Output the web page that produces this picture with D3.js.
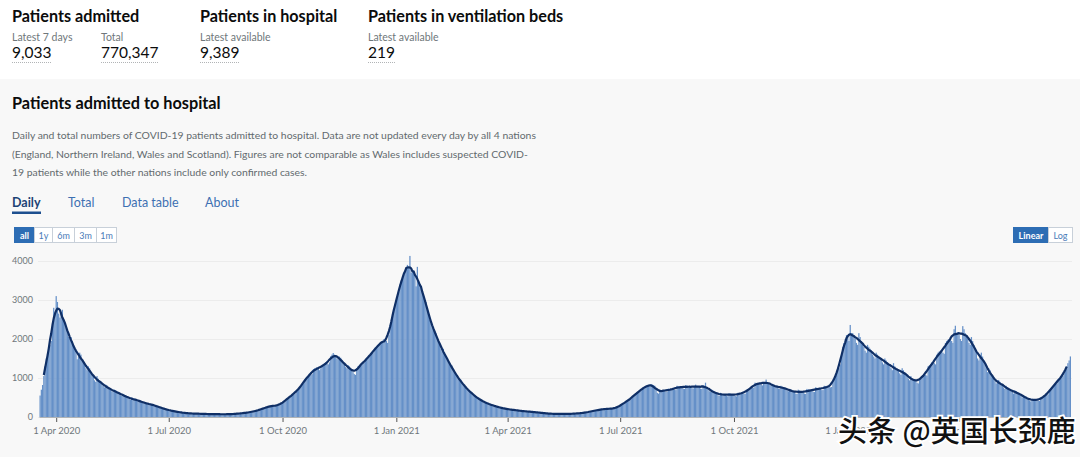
<!DOCTYPE html>
<html>
<head>
<meta charset="utf-8">
<script src="https://cdnjs.cloudflare.com/ajax/libs/d3/7.8.5/d3.min.js"></script>
<style>
  body { margin: 0; background: #f8f8f8; }
  svg { display: block; font-family: Lato, "Noto Sans", sans-serif; }
</style>
</head>
<body>
<svg id="page" width="1080" height="457"></svg>
<script>
// daily COVID-19 admissions (2020 starts 19 March, 2022 ends 30 June)
var firstDay = "2020-03-19";
var admitted2020 = [
  550, 700, 820, 1050, 1300, 1500, 1620, 1750, 1850, 1950, 2350, 2800, 2700,
  3100, 2950, 2650, 2550, 2700, 2750, 2500, 2400, 2300, 2200, 2050, 2000, 2050, 1950, 1800, 1750, 1700, 1480, 1550, 1650, 1600, 1450, 1400, 1350, 1250, 1200, 1300, 1250, 1150, 1100,
  1050, 940, 900, 1050, 980, 920, 880, 850, 800, 760, 830, 810, 760, 730, 700, 660, 640, 700, 680, 650, 630, 600, 560, 540, 590, 570, 550, 520, 500, 460, 440,
  500, 480, 470, 450, 430, 400, 390, 420, 410, 390, 370, 350, 330, 320, 350, 340, 330, 310, 300, 280, 260, 280, 270, 250, 240, 220, 200, 190, 210, 200,
  180, 170, 160, 145, 140, 155, 150, 135, 125, 120, 110, 105, 115, 110, 100, 98, 95, 88, 85, 95, 92, 88, 86, 84, 80, 78, 88, 86, 82, 80, 78,
  72, 70, 80, 78, 75, 74, 72, 68, 66, 76, 75, 73, 72, 70, 66, 64, 74, 76, 75, 74, 72, 70, 72, 85, 88, 90, 92, 95, 90, 92, 105,
  110, 115, 118, 120, 118, 125, 145, 150, 160, 165, 170, 172, 180, 205, 220, 235, 240, 250, 245, 255, 290, 290, 285, 290, 295, 280, 285, 320, 330, 350,
  380, 390, 400, 420, 480, 500, 530, 560, 580, 570, 590, 680, 700, 730, 760, 800, 820, 860, 960, 1000, 1040, 1070, 1100, 1080, 1100, 1230, 1250, 1260, 1270, 1240, 1200,
  1250, 1330, 1360, 1380, 1400, 1380, 1350, 1400, 1560, 1600, 1640, 1600, 1560, 1500, 1480, 1550, 1520, 1450, 1400, 1350, 1280, 1250, 1330, 1300, 1250, 1200, 1150, 1100, 1080, 1250,
  1300, 1320, 1330, 1350, 1380, 1400, 1480, 1500, 1520, 1560, 1600, 1620, 1650, 1720, 1780, 1800, 1820, 1850, 1880, 1900, 1950, 2000, 1980, 1950, 1900, 2100, 2350, 2500, 2650, 2750, 2900
];
var admitted2021 = [
  3000, 3100, 3200, 3400, 3500, 3600, 3700, 3750, 3800, 3900, 3850, 4130, 3700, 3750, 3700, 3650, 3350, 3850, 3500, 3400, 3300, 3200, 3100, 3000, 2950, 2800, 2650, 2500, 2400, 2300, 2250,
  2200, 2150, 2050, 1950, 1850, 1750, 1700, 1750, 1650, 1550, 1480, 1420, 1350, 1300, 1320, 1230, 1150, 1100, 1050, 980, 940, 960, 900, 840, 800, 760, 700, 680,
  690, 650, 610, 580, 550, 510, 490, 500, 470, 440, 420, 400, 380, 360, 370, 350, 330, 320, 310, 290, 280, 290, 275, 260, 250, 240, 225, 220, 230, 220, 210,
  205, 195, 185, 180, 190, 185, 180, 175, 170, 160, 150, 160, 155, 150, 148, 145, 140, 132, 140, 135, 130, 128, 125, 118, 112, 118, 115, 110, 105, 100,
  95, 88, 92, 90, 88, 85, 82, 78, 75, 82, 80, 78, 80, 79, 74, 72, 82, 80, 81, 80, 82, 78, 76, 88, 90, 92, 94, 95, 92, 90, 100,
  110, 115, 120, 125, 125, 120, 140, 150, 160, 165, 170, 168, 165, 185, 195, 200, 205, 205, 200, 195, 215, 220, 215, 218, 220, 215, 212, 240, 260, 280,
  300, 320, 330, 340, 380, 400, 420, 450, 470, 480, 490, 560, 590, 610, 630, 650, 660, 680, 740, 760, 780, 800, 810, 790, 780, 840, 830, 820, 800, 700, 620,
  600, 700, 690, 680, 690, 680, 640, 650, 730, 720, 710, 720, 730, 700, 690, 800, 790, 780, 770, 760, 730, 720, 820, 810, 790, 780, 770, 740, 730, 800, 830,
  800, 790, 770, 730, 720, 820, 790, 880, 750, 720, 660, 640, 700, 680, 650, 620, 600, 560, 540, 620, 600, 590, 580, 570, 540, 530, 610, 600, 590, 580,
  570, 540, 530, 620, 610, 600, 620, 630, 600, 590, 700, 690, 720, 740, 770, 760, 750, 880, 870, 860, 870, 880, 830, 810, 900, 880, 960, 880, 860, 820, 800,
  850, 830, 800, 790, 770, 730, 720, 800, 780, 760, 740, 720, 680, 660, 720, 700, 680, 660, 640, 600, 590, 700, 680, 660, 650, 640, 600, 590, 720, 710,
  700, 690, 680, 650, 640, 760, 750, 740, 730, 720, 690, 690, 800, 790, 780, 790, 780, 760, 770, 920, 1000, 1080, 1150, 1200, 1250, 1350, 1600, 1800, 1900, 2000, 2100
];
var admitted2022 = [
  2050, 1950, 2360, 2150, 2150, 2100, 2000, 1900, 1850, 2150, 2050, 1950, 1900, 1800, 1700, 1650, 1850, 1800, 1750, 1700, 1600, 1550, 1500, 1650, 1600, 1560, 1520, 1480, 1400, 1350, 1500,
  1450, 1400, 1350, 1300, 1250, 1200, 1380, 1300, 1250, 1200, 1180, 1120, 1080, 1250, 1200, 1150, 1100, 1050, 980, 940, 1050, 1000, 960, 940, 920, 880, 860, 1000,
  1020, 1050, 1080, 1100, 1080, 1060, 1300, 1320, 1350, 1400, 1420, 1380, 1350, 1600, 1650, 1680, 1700, 1720, 1650, 1620, 1900, 1950, 1980, 2000, 2050, 1950, 1900, 2250, 2340, 2150, 2180,
  2100, 2000, 1950, 2330, 2250, 2150, 2100, 2000, 1900, 1850, 2050, 1950, 1850, 1750, 1650, 1500, 1450, 1600, 1650, 1550, 1450, 1350, 1250, 1150, 1250, 1200, 1100, 1050, 980, 920,
  860, 880, 950, 900, 860, 820, 760, 720, 800, 760, 730, 700, 680, 640, 600, 680, 660, 640, 620, 580, 540, 500, 560, 540, 520, 480, 460, 420, 400, 470, 460,
  450, 440, 430, 420, 410, 500, 510, 520, 540, 560, 560, 580, 700, 730, 760, 790, 820, 830, 850, 960, 1000, 1030, 1060, 1050, 1120, 1180, 1300, 1380, 1450, 1553
];

// headline figures
var headTitles = ["Patients admitted", "Patients in hospital", "Patients in ventilation beds"];
var headLabels = ["Latest 7 days", "Total", "Latest available", "Latest available"];
var headValues = ["9,033", "770,347", "9,389", "219"];

var cardTitle = "Patients admitted to hospital";
var cardText = [
  "Daily and total numbers of COVID-19 patients admitted to hospital. Data are not updated every day by all 4 nations",
  "(England, Northern Ireland, Wales and Scotland). Figures are not comparable as Wales includes suspected COVID-",
  "19 patients while the other nations include only confirmed cases."
];
var tabs = ["Daily", "Total", "Data table", "About"];
var rangeButtons = ["all", "1y", "6m", "3m", "1m"];
var scaleButtons = ["Linear", "Log"];
var yTicks = [0, 1000, 2000, 3000, 4000];
var xTickDates = ["2020-04-01", "2020-07-01", "2020-10-01", "2021-01-01", "2021-04-01", "2021-07-01", "2021-10-01", "2022-01-01", "2022-04-01"];
var watermark = "头条 @英国长颈鹿";

var svg = d3.select("#page");

// white header strip
svg.append("rect").attr("x", 0).attr("y", 0).attr("width", 1080).attr("height", 79).attr("fill", "#ffffff");

var titleX = [12, 200, 368];
svg.selectAll("text.head").data(headTitles).enter().append("text")
    .attr("class", "head")
    .attr("x", function(d, i) { return titleX[i]; })
    .attr("y", 22)
    .attr("font-size", 16.2).attr("font-weight", 700).attr("fill", "#0b0c0c")
    .text(function(d) { return d; });

var itemX = [12, 101, 200, 368];
svg.selectAll("text.hlabel").data(headLabels).enter().append("text")
    .attr("class", "hlabel")
    .attr("x", function(d, i) { return itemX[i]; })
    .attr("y", 41)
    .attr("font-size", 10.5).attr("fill", "#6f777b")
    .text(function(d) { return d; });

var vals = svg.selectAll("text.hval").data(headValues).enter().append("text")
    .attr("class", "hval")
    .attr("x", function(d, i) { return itemX[i]; })
    .attr("y", 58)
    .attr("font-size", 15.5).attr("fill", "#0b0c0c")
    .text(function(d) { return d; });

// dotted underline below each figure
vals.each(function(d, i) {
  var w = this.getComputedTextLength();
  svg.append("line")
      .attr("x1", itemX[i]).attr("x2", itemX[i] + w)
      .attr("y1", 62.5).attr("y2", 62.5)
      .attr("stroke", "#b1b4b6").attr("stroke-dasharray", "1,1");
});

// card heading and description
svg.append("text").attr("x", 12).attr("y", 109)
    .attr("font-size", 16.3).attr("font-weight", 700).attr("fill", "#0b0c0c")
    .text(cardTitle);

svg.selectAll("text.desc").data(cardText).enter().append("text")
    .attr("class", "desc")
    .attr("x", 12)
    .attr("y", function(d, i) { return 139 + i * 18.5; })
    .attr("font-size", 10.4).attr("fill", "#626a6e")
    .text(function(d) { return d; });

// tabs
var tabX = [12, 68, 122, 205];
svg.selectAll("text.tab").data(tabs).enter().append("text")
    .attr("class", "tab")
    .attr("x", function(d, i) { return tabX[i]; })
    .attr("y", 207)
    .attr("font-size", 12.5)
    .attr("font-weight", function(d, i) { return i == 0 ? 700 : 400; })
    .attr("fill", function(d, i) { return i == 0 ? "#1d4375" : "#3d70b2"; })
    .text(function(d) { return d; });
svg.append("rect").attr("x", 12).attr("y", 211.5).attr("width", 29).attr("height", 2.5).attr("fill", "#1d4f8f");

// button groups
function buttons(labels, x0, widths, y0) {
  var g = svg.append("g");
  var x = x0;
  labels.forEach(function(t, i) {
    g.append("rect").attr("x", x + 0.5).attr("y", y0 + 0.5)
        .attr("width", widths[i]).attr("height", 15)
        .attr("fill", i == 0 ? "#2d6db4" : "#ffffff")
        .attr("stroke", i == 0 ? "#2d6db4" : "#c8d0d9");
    g.append("text").attr("x", x + 0.5 + widths[i] / 2).attr("y", y0 + 11.5)
        .attr("text-anchor", "middle").attr("font-size", 9)
        .attr("font-weight", i == 0 ? 700 : 400)
        .attr("fill", i == 0 ? "#ffffff" : "#4a7cb8")
        .text(t);
    x += widths[i];
  });
}
buttons(rangeButtons, 14, [20, 18, 22, 22, 20], 227);
buttons(scaleButtons, 1013, [35, 24], 227);

// chart data
var parseDay = d3.utcParse("%Y-%m-%d");
var start = parseDay(firstDay);
var daily = admitted2020.concat(admitted2021, admitted2022).map(function(v, i) {
  return {date: d3.utcDay.offset(start, i), value: v};
});

// 7-day average, centred on each day
var rolling = [];
for (var i = 3; i < daily.length - 3; i++) {
  rolling.push({date: daily[i].date, value: d3.mean(daily.slice(i - 3, i + 4), function(d) { return d.value; })});
}

// set the ranges
var x = d3.scaleUtc()
    .domain([start, d3.utcDay.offset(daily[daily.length - 1].date, 1)])
    .range([39.5, 1071]);
var y = d3.scaleLinear().domain([0, 4000]).range([417, 261]);
var step = x(d3.utcDay.offset(start, 1)) - x(start);

// gridlines and y labels
var yAxis = svg.append("g")
    .attr("transform", "translate(38,0)")
    .call(d3.axisLeft(y).tickValues(yTicks).tickSize(-1034).tickPadding(5).tickFormat(d3.format("d")));
yAxis.select(".domain").remove();
yAxis.selectAll(".tick line").attr("stroke", "#ececec");
yAxis.selectAll(".tick text").attr("fill", "#6f777b").attr("font-size", 9).attr("font-family", "Lato, sans-serif");

// bars
svg.append("g").selectAll("rect").data(daily).enter().append("rect")
    .attr("x", function(d) { return x(d.date); })
    .attr("width", step)
    .attr("y", function(d) { return y(d.value); })
    .attr("height", function(d) { return y(0) - y(d.value); })
    .attr("fill", "#6590c8");

// x axis
var xAxis = svg.append("g")
    .attr("transform", "translate(0,417)")
    .call(d3.axisBottom(x).tickValues(xTickDates.map(parseDay)).tickSize(4).tickPadding(6).tickFormat(d3.utcFormat("%-d %b %Y")));
xAxis.select(".domain").attr("stroke", "#b1b4b6").attr("d", "M39.5,0.5H1071");
xAxis.selectAll(".tick line").attr("stroke", "#555").attr("transform", "translate(" + (step / 2) + ",1)");
xAxis.selectAll(".tick text").attr("fill", "#6f777b").attr("font-size", 9.5).attr("font-family", "Lato, sans-serif")
    .attr("transform", "translate(" + (step / 2) + ",0)");

// define the line
var valueline = d3.line()
    .x(function(d) { return x(d.date) + step / 2; })
    .y(function(d) { return y(d.value); });

svg.append("path")
    .datum(rolling)
    .attr("d", valueline)
    .attr("fill", "none")
    .attr("stroke", "#0f2f66")
    .attr("stroke-width", 2.2)
    .attr("stroke-linejoin", "round");

// watermark
svg.append("text")
    .attr("x", 838).attr("y", 442)
    .attr("font-family", "'Noto Sans CJK SC', sans-serif")
    .attr("font-size", 29).attr("font-weight", 500)
    .attr("fill", "#111111").attr("stroke", "#ffffff").attr("stroke-width", 3.5)
    .attr("paint-order", "stroke")
    .text(watermark);
</script>
</body>
</html>
